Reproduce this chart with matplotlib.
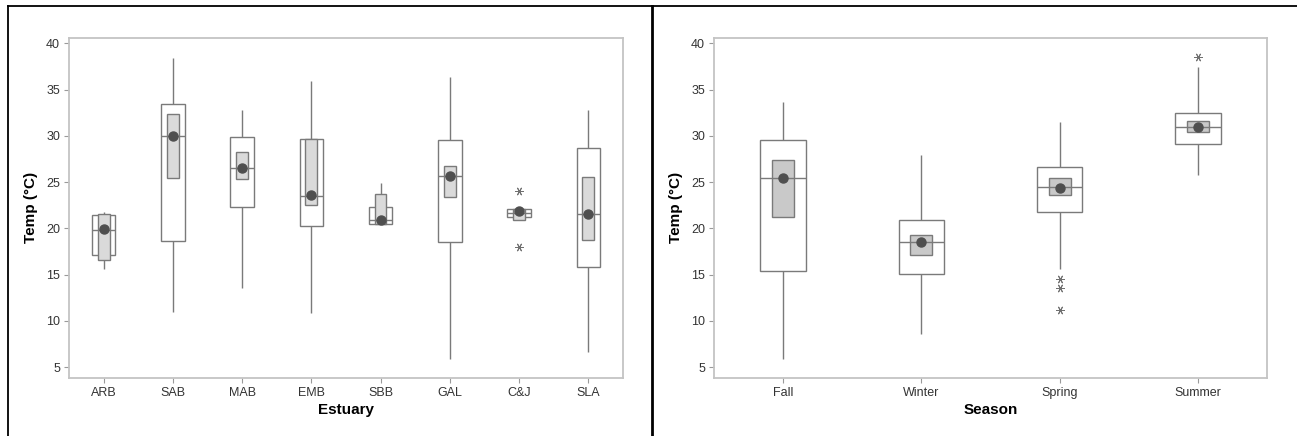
import numpy as np
import matplotlib.pyplot as plt
from matplotlib.lines import Line2D

plt.rcParams['font.family'] = ['Liberation Sans', 'DejaVu Sans']

# Datos: estuarios
estuarios = ["ARB", "SAB", "MAB", "EMB", "SBB", "GAL", "C&J", "SLA"]
est_min = [15.6, 10.9, 13.5, 10.8, 20.5, 5.9, 21.1, 6.6]
est_q1 = [17.1, 18.6, 22.3, 20.2, 20.5, 18.5, 21.2, 15.8]
est_med = [19.8, 30.0, 26.55, 23.5, 20.85, 25.7, 21.7, 21.5]
est_q3 = [21.4, 33.4, 29.9, 29.6, 22.3, 29.5, 22.1, 28.7]
est_max = [21.8, 38.4, 32.8, 35.9, 24.9, 36.3, 22.2, 32.8]
est_ci_lo = [16.6, 25.4, 25.3, 22.5, 20.5, 23.35, 20.9, 18.7]
est_ci_hi = [21.5, 32.4, 28.3, 29.6, 23.7, 26.7, 22.1, 25.5]
est_media = [19.9, 30.0, 26.5, 23.55, 20.9, 25.7, 21.9, 21.5]
est_atipicos = {"C&J": [24.0, 18.0]}

# Datos: estaciones
estaciones = ["Fall", "Winter", "Spring", "Summer"]
est2_min = [5.9, 8.6, 15.6, 25.8]
est2_q1 = [15.4, 15.05, 21.8, 29.1]
est2_med = [25.4, 18.5, 24.5, 30.9]
est2_q3 = [29.5, 20.85, 26.65, 32.5]
est2_max = [33.6, 27.9, 31.5, 37.4]
est2_ci_lo = [21.25, 17.15, 23.55, 30.4]
est2_ci_hi = [27.35, 19.3, 25.4, 31.6]
est2_media = [25.4, 18.5, 24.4, 30.9]
est2_atipicos = {"Spring": [14.5, 13.6, 11.2], "Summer": [38.55]}

color_linea = "#7a7a7a"
color_marco = "#c4c4c4"
color_punto = "#4f4f4f"


def graficar(ax, cats, vmin, q1, med, q3, vmax, ci_lo, ci_hi, media, atipicos,
             ancho, ancho_ci, gris, xlabel):
    x = np.arange(len(cats))
    q1 = np.array(q1); q3 = np.array(q3)
    ci_lo = np.array(ci_lo); ci_hi = np.array(ci_hi)
    ax.vlines(x, vmin, q1, color=color_linea, lw=1.0, zorder=1)
    ax.vlines(x, q3, vmax, color=color_linea, lw=1.0, zorder=1)
    ax.bar(x, q3 - q1, bottom=q1, width=ancho, color="white",
           edgecolor=color_linea, linewidth=1.0, zorder=2)
    ax.bar(x, ci_hi - ci_lo, bottom=ci_lo, width=ancho_ci, color=gris,
           edgecolor=color_linea, linewidth=1.0, zorder=3)
    ax.hlines(med, x - ancho / 2, x + ancho / 2, color=color_linea, lw=1.0, zorder=4)
    ax.plot(x, media, "o", color=color_punto, markersize=6.5, zorder=5)
    for nombre, vals in atipicos.items():
        i = cats.index(nombre)
        ax.plot([i] * len(vals), vals, linestyle="none", marker=(6, 2, 90),
                markersize=6, color="#707070", markeredgewidth=0.7, zorder=5)

    ax.set_xlim(-0.5, len(cats) - 0.5)
    ax.set_ylim(3.85, 40.6)
    ax.set_yticks(np.arange(5, 41, 5))
    ax.set_xticks(x)
    ax.set_xticklabels(cats)
    for s in ax.spines.values():
        s.set_color(color_marco)
        s.set_linewidth(1.3)
    ax.tick_params(colors="#9a9a9a", labelcolor="#333333", length=3.5,
                   width=0.8, labelsize=9, pad=3)
    ax.set_xlabel(xlabel, fontsize=11, fontweight="bold", labelpad=3)
    ax.set_ylabel("Temp (°C)", fontsize=11, fontweight="bold", labelpad=6)


fig = plt.figure(figsize=(12.97, 4.36), dpi=100)
ax1 = fig.add_axes([0.0532, 0.1337, 0.4271, 0.7798])
ax2 = fig.add_axes([0.5505, 0.1337, 0.4264, 0.7798])

graficar(ax1, estuarios, est_min, est_q1, est_med, est_q3, est_max,
         est_ci_lo, est_ci_hi, est_media, est_atipicos, 0.34, 0.17,
         "#dadada", "Estuary")
graficar(ax2, estaciones, est2_min, est2_q1, est2_med, est2_q3, est2_max,
         est2_ci_lo, est2_ci_hi, est2_media, est2_atipicos, 0.33, 0.16,
         "#c9c9c9", "Season")

# Bordes negros de la figura
fig.add_artist(Line2D([7.5 / 1297, 1], [1 - 6.5 / 436] * 2, color="black",
                      lw=1.3, transform=fig.transFigure))
fig.add_artist(Line2D([7.5 / 1297] * 2, [0, 1 - 6.5 / 436], color="black",
                      lw=1.3, transform=fig.transFigure))
fig.add_artist(Line2D([652 / 1297] * 2, [0, 1 - 6.5 / 436], color="black",
                      lw=2.0, transform=fig.transFigure))

fig.savefig("out.png", dpi=100)
